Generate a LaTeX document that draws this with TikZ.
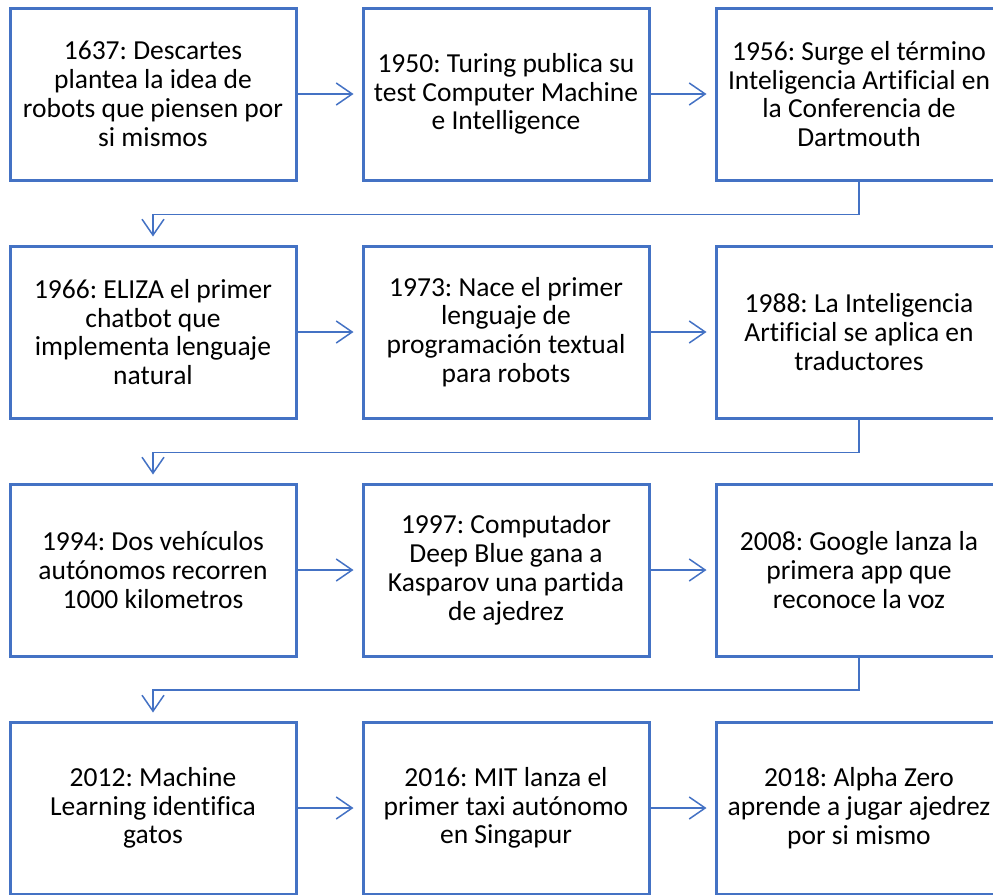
\documentclass[tikz,border=0pt]{standalone}
\usepackage{fontspec}
\setmainfont[Ligatures=NoCommon]{Carlito}
\frenchspacing
\usetikzlibrary{arrows.meta}
\definecolor{boxblue}{HTML}{4472C4}
\begin{document}
\begin{tikzpicture}[x=1pt,y=-1pt,
  event/.style={draw=boxblue, line width=3pt, fill=white, minimum width=286pt,
    minimum height=172pt, inner sep=0pt, align=center,
    font=\fontsize{27.5}{28.8}\selectfont},
  link/.style={draw=boxblue, line width=1.5pt,
    -{Straight Barb[length=16pt,width=22pt]}, shorten >=8pt}]
\useasboundingbox (0,0) rectangle (993,894);
\clip (0,0) rectangle (993,894);
% row 1
\node[event] (e1) at (153,94) {1637: Descartes\\plantea la idea de\\robots que piensen por\\si mismos};
\node[event] (e2) at (506,94) {1950: Turing publica su\\test Computer Machine\\e Intelligence};
\node[event] (e3) at (859,94) {1956: Surge el término\\Inteligencia Artificial en\\la Conferencia de\\Dartmouth};
% row 2
\node[event] (e4) at (153,332) {1966: ELIZA el primer\\chatbot que\\implementa lenguaje\\natural};
\node[event] (e5) at (506,332) {1973: Nace el primer\\lenguaje de\\programación textual\\para robots};
\node[event] (e6) at (859,332) {1988: La Inteligencia\\Artificial se aplica en\\traductores};
% row 3
\node[event] (e7) at (153,570) {1994: Dos vehículos\\autónomos recorren\\1000 kilometros};
\node[event] (e8) at (506,570) {1997: Computador\\Deep Blue gana a\\Kasparov una partida\\de ajedrez};
\node[event] (e9) at (859,570) {2008: Google lanza la\\primera app que\\reconoce la voz};
% row 4
\node[event] (e10) at (153,808) {2012: Machine\\Learning identifica\\gatos};
\node[event] (e11) at (506,808) {2016: MIT lanza el\\primer taxi autónomo\\en Singapur};
\node[event] (e12) at (859,808) {2018: Alpha Zero\\aprende a jugar ajedrez\\por si mismo};
% arrows within rows
\foreach \a/\b in {e1/e2,e2/e3,e4/e5,e5/e6,e7/e8,e8/e9,e10/e11,e11/e12}
  \draw[link] (\a.east) -- (\b.west);
% row-to-row elbows
\draw[link] (e3.south) -- ++(0,33) -| (e4.north);
\draw[link] (e6.south) -- ++(0,33) -| (e7.north);
\draw[link] (e9.south) -- ++(0,32.5) -| (e10.north);
\end{tikzpicture}
\end{document}
